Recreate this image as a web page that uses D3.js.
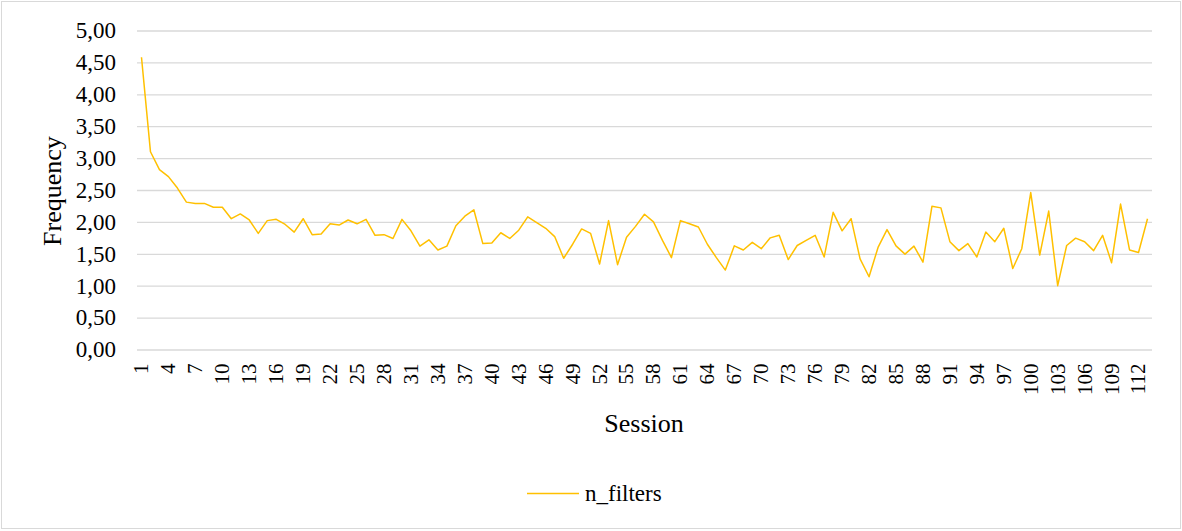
<!DOCTYPE html>
<html>
<head>
<meta charset="utf-8">
<script src="https://cdn.jsdelivr.net/npm/d3@7"></script>
<style>
  body { margin: 0; background: #ffffff; }
</style>
</head>
<body>
<div id="chart"></div>
<script>
// session numbers 1..113
var sessions = [
  1, 2, 3, 4, 5, 6, 7, 8, 9, 10, 11, 12, 13, 14, 15, 16, 17, 18, 19, 20,
  21, 22, 23, 24, 25, 26, 27, 28, 29, 30, 31, 32, 33, 34, 35, 36, 37, 38, 39, 40,
  41, 42, 43, 44, 45, 46, 47, 48, 49, 50, 51, 52, 53, 54, 55, 56, 57, 58, 59, 60,
  61, 62, 63, 64, 65, 66, 67, 68, 69, 70, 71, 72, 73, 74, 75, 76, 77, 78, 79, 80,
  81, 82, 83, 84, 85, 86, 87, 88, 89, 90, 91, 92, 93, 94, 95, 96, 97, 98, 99, 100,
  101, 102, 103, 104, 105, 106, 107, 108, 109, 110, 111, 112, 113
];

// n_filters frequency per session
var nFilters = [
  4.58, 3.10, 2.82, 2.71, 2.53, 2.31, 2.29, 2.29, 2.23, 2.23,
  2.05, 2.125, 2.03, 1.82, 2.02, 2.04, 1.96, 1.84, 2.05, 1.80,
  1.81, 1.97, 1.95, 2.03, 1.97, 2.04, 1.79, 1.80, 1.74, 2.04,
  1.86, 1.62, 1.72, 1.56, 1.62, 1.94, 2.09, 2.19, 1.66, 1.67,
  1.83, 1.74, 1.87, 2.08, 1.99, 1.90, 1.77, 1.43, 1.65, 1.89,
  1.82, 1.34, 2.02, 1.33, 1.76, 1.93, 2.12, 2.00, 1.71, 1.44,
  2.02, 1.97, 1.92, 1.65, 1.44, 1.245, 1.625, 1.56, 1.68, 1.58,
  1.75, 1.79, 1.41, 1.63, 1.71, 1.79, 1.45, 2.15, 1.86, 2.05,
  1.42, 1.14, 1.60, 1.88, 1.625, 1.495, 1.62, 1.37, 2.245, 2.22,
  1.69, 1.55, 1.66, 1.45, 1.84, 1.69, 1.90, 1.27, 1.58, 2.46,
  1.48, 2.17, 1.00, 1.63, 1.745, 1.69, 1.55, 1.79, 1.36, 2.28,
  1.56, 1.52, 2.05
];

// y ticks 0..5 step 0.5
var yTicks = [0, 0.5, 1, 1.5, 2, 2.5, 3, 3.5, 4, 4.5, 5];

// x tick labels: every third session
var xTicks = sessions.filter(function(d, i) { return i % 3 === 0; });

var seriesName = "n_filters";
var serif = "'Liberation Serif', 'Times New Roman', serif";

drawLineChart("#chart");

function drawLineChart(chartSelection) {
  var width = 1182;
  var height = 531;

  var svg = d3.select(chartSelection)
    .append("svg")
    .attr("width", width)
    .attr("height", height)
    .attr("font-family", serif);

  // chart frame
  svg.append("rect")
    .attr("x", 1.5)
    .attr("y", 1.5)
    .attr("width", 1179)
    .attr("height", 527)
    .attr("fill", "#ffffff")
    .attr("stroke", "#d9d9d9")
    .attr("stroke-width", 1);

  // plot area
  var plot = { left: 137, right: 1152, top: 30.5, bottom: 349.5 };

  var xScale = d3.scaleBand()
    .domain(sessions)
    .range([plot.left, plot.right]);

  var yScale = d3.scaleLinear()
    .domain([0, 5])
    .range([plot.bottom, plot.top]);

  var fmt = function(d) { return d3.format(".2f")(d).replace(".", ","); };

  // y axis + gridlines
  var yAxis = d3.axisLeft(yScale)
    .tickValues(yTicks)
    .tickSize(-(plot.right - plot.left))
    .tickPadding(21)
    .tickFormat(fmt);

  var gy = svg.append("g")
    .attr("transform", "translate(" + plot.left + ",0)")
    .call(yAxis)
    .attr("font-family", serif)
    .attr("font-size", 23);
  gy.select(".domain").remove();
  gy.selectAll("line")
    .attr("stroke", "#d9d9d9")
    .attr("stroke-width", 1.3);
  gy.selectAll("text")
    .attr("fill", "#000");

  // x axis labels, rotated
  var xAxis = d3.axisBottom(xScale)
    .tickValues(xTicks)
    .tickSize(0);

  var gx = svg.append("g")
    .attr("transform", "translate(0," + plot.bottom + ")")
    .call(xAxis)
    .attr("font-family", serif)
    .attr("font-size", 21);
  gx.select(".domain").remove();
  gx.selectAll("text")
    .attr("fill", "#000")
    .attr("text-anchor", "end")
    .attr("transform", "rotate(-90)")
    .attr("x", -14)
    .attr("y", 0)
    .attr("dy", "0.33em");

  // the line
  var line = d3.line()
    .x(function(d, i) { return xScale(sessions[i]) + xScale.bandwidth() / 2; })
    .y(function(d) { return yScale(d); });

  svg.append("path")
    .datum(nFilters)
    .attr("d", line)
    .attr("fill", "none")
    .attr("stroke", "#ffc000")
    .attr("stroke-width", 1.5)
    .attr("stroke-linejoin", "round");

  // axis titles
  svg.append("text")
    .attr("transform", "translate(61,191) rotate(-90)")
    .attr("text-anchor", "middle")
    .attr("font-size", 26)
    .text("Frequency");

  svg.append("text")
    .attr("x", 644)
    .attr("y", 432)
    .attr("text-anchor", "middle")
    .attr("font-size", 26)
    .text("Session");

  // legend
  svg.append("line")
    .attr("x1", 527)
    .attr("x2", 579)
    .attr("y1", 493.5)
    .attr("y2", 493.5)
    .attr("stroke", "#ffc000")
    .attr("stroke-width", 1.5);

  svg.append("text")
    .attr("x", 585)
    .attr("y", 501)
    .attr("font-size", 23)
    .text(seriesName);
}
</script>
</body>
</html>
